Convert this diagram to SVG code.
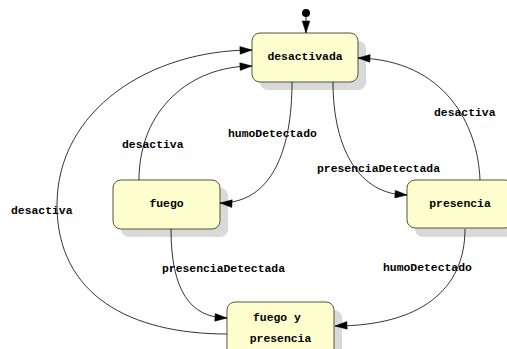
<svg xmlns="http://www.w3.org/2000/svg" xmlns:xlink="http://www.w3.org/1999/xlink" width="507" height="349" viewBox="0 0 507 349">
<style>
.shadow{fill:#d9d9d9;stroke:none}
.box{fill:#fefece;stroke:#55553c;stroke-width:1}
.lbl{font-family:"Liberation Mono","DejaVu Sans Mono",monospace;font-weight:bold;font-size:11.4px;fill:#000}
.node{text-anchor:middle}
.edge{fill:none;stroke:#000;stroke-width:0.8}
.head{fill:#000;stroke:#000;stroke-width:0.5;stroke-linejoin:miter}
</style>
<defs>
<path id="ah" class="head" d="M0,0 L-12,-3.8 L-12,3.8 z"/>
</defs>
<rect width="507" height="349" fill="#fff"/>
<g id="desactivada">
<rect class="shadow" x="260" y="41" width="106" height="49" rx="8"/>
<rect class="box" x="252" y="33" width="106" height="49" rx="8"/>
<text class="lbl node" x="305" y="60">desactivada</text>
</g>
<g id="fuego">
<rect class="shadow" x="121" y="188" width="107" height="49" rx="8"/>
<rect class="box" x="113" y="180" width="107" height="49" rx="8"/>
<text class="lbl node" x="166.5" y="207">fuego</text>
</g>
<g id="presencia">
<rect class="shadow" x="415" y="188" width="106" height="49" rx="8"/>
<rect class="box" x="407" y="180" width="106" height="48" rx="8"/>
<text class="lbl node" x="460" y="207">presencia</text>
</g>
<g id="fuego_y_presencia">
<rect class="shadow" x="235" y="310" width="107" height="60" rx="8"/>
<rect class="box" x="227" y="302" width="107" height="60" rx="8"/>
<text class="lbl" x="253" y="321">fuego y</text>
<text class="lbl node" x="280.5" y="342">presencia</text>
</g>
<g id="connectors">
<circle cx="306" cy="13" r="4" fill="#000"/>
<path class="edge" d="M306,17 L306,33"/>
<use href="#ah" xlink:href="#ah" transform="translate(306,33) rotate(90)"/>
<path class="edge" d="M227,334 C130,334 57,295 57,205 C57,110 150,50 252,50"/>
<use href="#ah" xlink:href="#ah" transform="translate(252,50) rotate(-2)"/>
<path class="edge" d="M139,180 C139,110 190,66 252,66"/>
<use href="#ah" xlink:href="#ah" transform="translate(252,66) rotate(-3)"/>
<path class="edge" d="M292,82 C292,150 272,203 220,203"/>
<use href="#ah" xlink:href="#ah" transform="translate(220,203) rotate(183)"/>
<path class="edge" d="M333,82 C333,150 360,195 407,195"/>
<use href="#ah" xlink:href="#ah" transform="translate(407,195) rotate(4)"/>
<path class="edge" d="M480,180 C478,125 445,60 358,58"/>
<use href="#ah" xlink:href="#ah" transform="translate(358,58) rotate(182)"/>
<path class="edge" d="M171,229 C171,290 190,318 227,318"/>
<use href="#ah" xlink:href="#ah" transform="translate(227,318) rotate(3)"/>
<path class="edge" d="M465,229 C465,290 420,326 335,326"/>
<use href="#ah" xlink:href="#ah" transform="translate(335,326) rotate(177)"/>
<text class="lbl" x="11" y="214">desactiva</text>
<text class="lbl" x="122" y="148">desactiva</text>
<text class="lbl" x="228" y="137">humoDetectado</text>
<text class="lbl" x="434" y="116">desactiva</text>
<text class="lbl" x="317" y="172">presenciaDetectada</text>
<text class="lbl" x="162" y="272">presenciaDetectada</text>
<text class="lbl" x="383" y="271">humoDetectado</text>
</g>
</svg>
